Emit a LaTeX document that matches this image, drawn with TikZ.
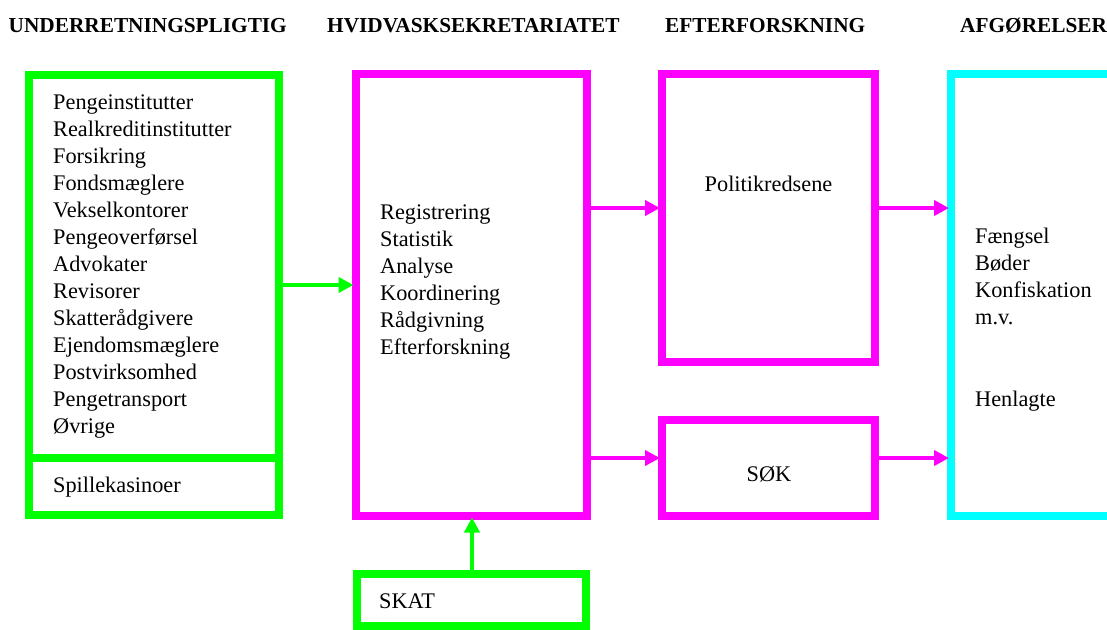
\documentclass[tikz,border=0pt]{standalone}
\usepackage{fontspec}
\setmainfont{Liberation Serif}
\newfontfamily\bodyserif{Liberation Serif}
\usetikzlibrary{arrows.meta}
\definecolor{lgreen}{RGB}{0,255,0}
\definecolor{mag}{RGB}{255,0,255}
\definecolor{cyn}{RGB}{0,255,255}
\begin{document}
\begin{tikzpicture}[x=1pt,y=-1pt,
  box/.style={draw=#1, line width=8pt, inner sep=0pt, rectangle},
  arr/.style={draw=#1, line width=4pt, -{Triangle[length=15pt,width=15pt]}, shorten >=-2pt},
  lbl/.style={anchor=base west, inner sep=0pt, font=\bodyserif\fontsize{22.3}{27}\selectfont},
  head/.style={anchor=base west, inner sep=0pt, font=\bodyserif\fontsize{21.3}{25}\selectfont\bfseries}]
\useasboundingbox (0,0) rectangle (1107,629);
% headings
\node[head] (h1) at (8.5,32) {UNDERRETNINGSPLIGTIG};
\node[head] (h2) at (327,32) {HVIDVASKSEKRETARIATET};
\node[head] (h3) at (665,32) {EFTERFORSKNING};
\node[head] (h4) at (960,32) {AFGØRELSER};
% boxes
\node[box=lgreen, minimum width=250pt, minimum height=383.5pt] (G1) at (154,266.25) {};
\node[box=lgreen, minimum width=250pt, minimum height=57pt] (G2) at (154,486.5) {};
\node[box=mag, minimum width=231.5pt, minimum height=441.5pt] (M1) at (471.25,294.75) {};
\node[box=lgreen, minimum width=229.5pt, minimum height=52pt] (SK) at (471.25,600) {};
\node[box=mag, minimum width=213pt, minimum height=288pt] (P1) at (768.5,218) {};
\node[box=mag, minimum width=213pt, minimum height=96pt] (P2) at (768.5,468) {};
\node[box=cyn, minimum width=164pt, minimum height=442pt] (C1) at (1033,295) {};
% list texts
\foreach \t [count=\i from 0] in {Pengeinstitutter,Realkreditinstitutter,Forsikring,Fondsmæglere,Vekselkontorer,Pengeoverførsel,Advokater,Revisorer,Skatterådgivere,Ejendomsmæglere,Postvirksomhed,Pengetransport,Øvrige}
  \node[lbl] (g\i) at (53,109+27.05*\i) {\t};
\node[lbl] (gs) at (53,492) {Spillekasinoer};
\foreach \t [count=\i from 0] in {Registrering,Statistik,Analyse,Koordinering,Rådgivning,Efterforskning}
  \node[lbl] (m\i) at (380,219+27.05*\i) {\t};
\node[lbl, anchor=base] (pt) at (768.5,191) {Politikredsene};
\node[lbl, anchor=base] (st) at (769,481) {SØK};
\node[lbl] (skt) at (379,608) {SKAT};
\foreach \t [count=\i from 0] in {Fængsel,Bøder,Konfiskation,m.v.}
  \node[lbl] (c\i) at (975,243+27.05*\i) {\t};
\node[lbl] (c4) at (975,406) {Henlagte};
% arrows
\draw[arr=lgreen] (G1.east |- 0,285) -- (M1.west |- 0,285);
\draw[arr=mag] (M1.east |- 0,208) -- (P1.west |- 0,208);
\draw[arr=mag] (M1.east |- 0,458) -- (P2.west |- 0,458);
\draw[arr=mag] (P1.east |- 0,208) -- (C1.west |- 0,208);
\draw[arr=mag] (P2.east |- 0,458) -- (C1.west |- 0,458);
\draw[arr=lgreen] (SK.north -| 472,0) -- (M1.south -| 472,0);
\end{tikzpicture}
\end{document}
